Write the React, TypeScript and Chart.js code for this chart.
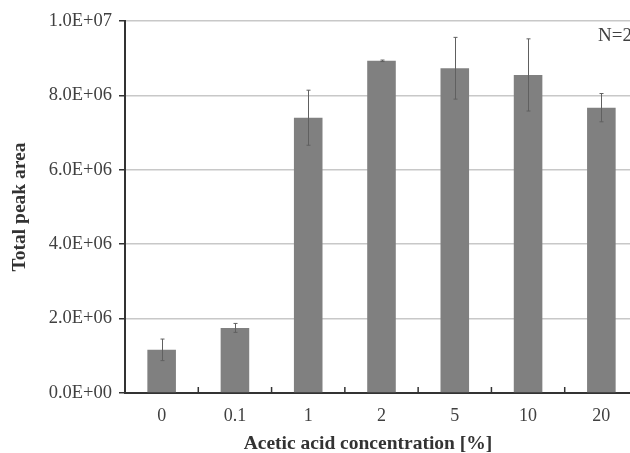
import React, { useEffect, useRef } from "react";
import { Chart, registerables } from "chart.js";

Chart.register(...registerables);

const categories = ["0", "0.1", "1", "2", "5", "10", "20"];
const peakArea = [1.16e6, 1.75e6, 7.4e6, 8.93e6, 8.73e6, 8.55e6, 7.67e6];
const peakErr = [0.29e6, 0.12e6, 0.74e6, 0.02e6, 0.83e6, 0.97e6, 0.38e6];
const yTicks = [0, 2e6, 4e6, 6e6, 8e6, 1e7];
const xTitle = "Acetic acid concentration [%]";
const yTitle = "Total peak area";
const note = "N=2";

const SERIF = "'Liberation Serif', 'Times New Roman', serif";

function fmtSci(v: number): string {
  if (v === 0) return "0.0E+00";
  const e = Math.floor(Math.log10(Math.abs(v)));
  const m = v / Math.pow(10, e);
  const es = (e < 0 ? "-" : "+") + String(Math.abs(e)).padStart(2, "0");
  return m.toFixed(1) + "E" + es;
}

const extrasPlugin = {
  id: "extras",
  afterDatasetsDraw(chart: any) {
    const ctx = chart.ctx;
    const meta = chart.getDatasetMeta(0);
    const ys = chart.scales.y;
    const xs = chart.scales.x;
    const area = chart.chartArea;
    ctx.save();
    ctx.strokeStyle = "#606060";
    ctx.lineWidth = 1;
    meta.data.forEach((bar: any, i: number) => {
      const x = Math.round(bar.x) + 0.5;
      const yt = ys.getPixelForValue(peakArea[i] + peakErr[i]);
      const yb = ys.getPixelForValue(peakArea[i] - peakErr[i]);
      ctx.beginPath();
      ctx.moveTo(x, yt);
      ctx.lineTo(x, yb);
      ctx.moveTo(x - 2, yt);
      ctx.lineTo(x + 2, yt);
      ctx.moveTo(x - 2, yb);
      ctx.lineTo(x + 2, yb);
      ctx.stroke();
    });
    ctx.strokeStyle = "#333333";
    ctx.lineWidth = 1.5;
    for (let i = 0; i < categories.length; i++) {
      const xb = (xs.getPixelForValue(i) + xs.getPixelForValue(i + 1)) / 2;
      ctx.beginPath();
      ctx.moveTo(xb, area.bottom);
      ctx.lineTo(xb, area.bottom - 6);
      ctx.stroke();
    }
    ctx.restore();
  },
  afterDraw(chart: any) {
    const ctx = chart.ctx;
    ctx.save();
    ctx.fillStyle = "#333333";
    ctx.font = "bold 19.5px " + SERIF;
    ctx.textAlign = "center";
    ctx.textBaseline = "middle";
    ctx.fillText(xTitle, 368, 444);
    ctx.fillStyle = "#404040";
    ctx.font = "19px " + SERIF;
    ctx.textAlign = "left";
    ctx.fillText(note, 598, 36);
    ctx.restore();
  },
};

export default function App() {
  const ref = useRef<HTMLCanvasElement | null>(null);
  useEffect(() => {
    if (!ref.current) return;
    const chart = new Chart(ref.current, {
      type: "bar",
      data: {
        labels: categories,
        datasets: [
          {
            data: peakArea,
            backgroundColor: "#808080",
            borderWidth: 0,
            barPercentage: 0.39,
            categoryPercentage: 1,
          },
        ],
      },
      options: {
        responsive: false,
        animation: false,
        devicePixelRatio: 1,
        layout: { padding: { left: 0, top: 21, right: 12, bottom: 0 } },
        plugins: { legend: { display: false }, tooltip: { enabled: false } },
        scales: {
          x: {
            grid: { display: false },
            border: { display: true, color: "#333333", width: 2 },
            ticks: {
              color: "#404040",
              font: { family: SERIF, size: 18 },
              padding: 4,
              maxRotation: 0,
            },
            afterFit: (s: any) => {
              s.height = 60;
            },
          },
          y: {
            min: 0,
            max: 1e7,
            afterBuildTicks: (s: any) => {
              s.ticks = yTicks.map((v) => ({ value: v }));
            },
            grid: {
              color: "#c8c8c8",
              lineWidth: 1.5,
              tickColor: "#333333",
              tickLength: 6,
              drawTicks: true,
            },
            border: { display: true, color: "#333333", width: 2 },
            ticks: {
              color: "#404040",
              font: { family: SERIF, size: 18.5 },
              padding: 7,
              callback: (v: any) => fmtSci(Number(v)),
            },
            title: {
              display: true,
              text: yTitle,
              color: "#333333",
              font: { family: SERIF, size: 19.5, weight: "bold" },
              padding: { top: 8, bottom: 0 },
            },
            afterFit: (s: any) => {
              s.width = 125;
            },
          },
        },
      },
      plugins: [extrasPlugin],
    });
    return () => chart.destroy();
  }, []);
  return (
    <div
      style={{
        position: "fixed",
        left: 0,
        top: 0,
        width: 630,
        height: 453,
        overflow: "hidden",
        background: "#ffffff",
      }}
    >
      <canvas ref={ref} width={650} height={453} style={{ width: 650, height: 453, display: "block" }} />
    </div>
  );
}
